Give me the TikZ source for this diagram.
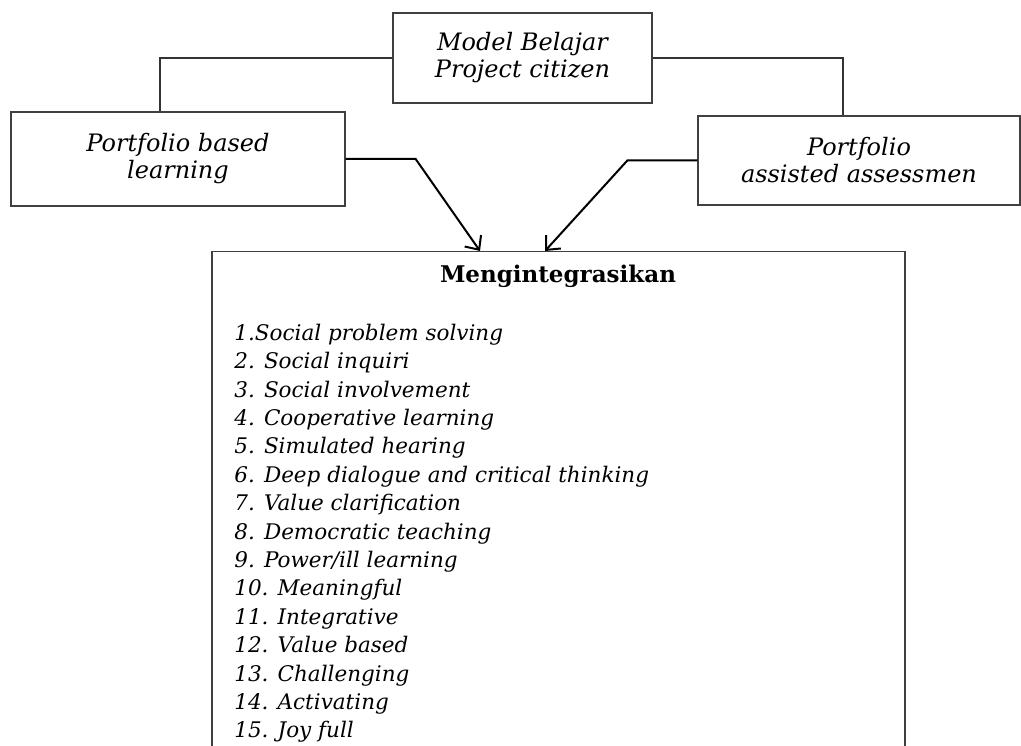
\documentclass[tikz,border=0pt]{standalone}
\usepackage{fontspec}
\setmainfont{DejaVu Serif}
\usetikzlibrary{positioning}
\usetikzlibrary{arrows.meta}

\begin{document}
\begin{tikzpicture}[x=1pt,y=-1pt,node distance = 0.5cm,thick]
\tikzstyle{box}=[draw=black!75,line width=1.3pt,align=center,inner sep=0pt,
  font=\fontsize{24}{27}\selectfont\itshape]
\tikzstyle{link}=[draw=black!80,line width=1.3pt]
\tikzstyle{arr}=[draw=black,line width=2pt,-{Straight Barb[length=11pt,width=20pt]}]
\useasboundingbox (0,0) rectangle (1021,746);
\node[box, minimum width=259pt, minimum height=90pt]	(PC)	at (522.5,58)	{Model Belajar\\Project citizen};
\node[box, minimum width=334pt, minimum height=94pt]	(PBL)	at (178,159)	{Portfolio based\\learning};
\node[box, minimum width=322pt, minimum height=89pt]	(PAA)	at (859,160.5)	{Portfolio\\assisted assessmen};
\node[box, minimum width=693pt, minimum height=520pt, anchor=north]	(MI)	at (558.5,251)	{};
\node[anchor=base, font=\fontsize{23}{26}\selectfont\bfseries]	(title)	at (558,283)	{Mengintegrasikan};
\node[anchor=north west, align=left, inner sep=0pt,
  font=\fontsize{21.5}{28.4}\selectfont\itshape]	(list)	at (234,323.5)
  {1.Social problem solving\\
   2. Social inquiri\\
   3. Social involvement\\
   4. Cooperative learning\\
   5. Simulated hearing\\
   6. Deep dialogue and critical thinking\\
   7. Value clarification\\
   8. Democratic teaching\\
   9. Power/ill learning\\
   10. Meaningful\\
   11. Integrative\\
   12. Value based\\
   13. Challenging\\
   14. Activating\\
   15. Joy full};
% connectors
\draw[link] (PC.west) -| ([xshift=-18pt]PBL.north);
\draw[link] (PC.east) -| ([xshift=-16pt]PAA.north);
\draw[arr] (PBL.east) -- ++(70,0) -- ([xshift=-78.5pt]MI.north);
\draw[arr] (PAA.west) -- ++(-70,0) -- ([xshift=-13.5pt]MI.north);
\end{tikzpicture}
\end{document}
